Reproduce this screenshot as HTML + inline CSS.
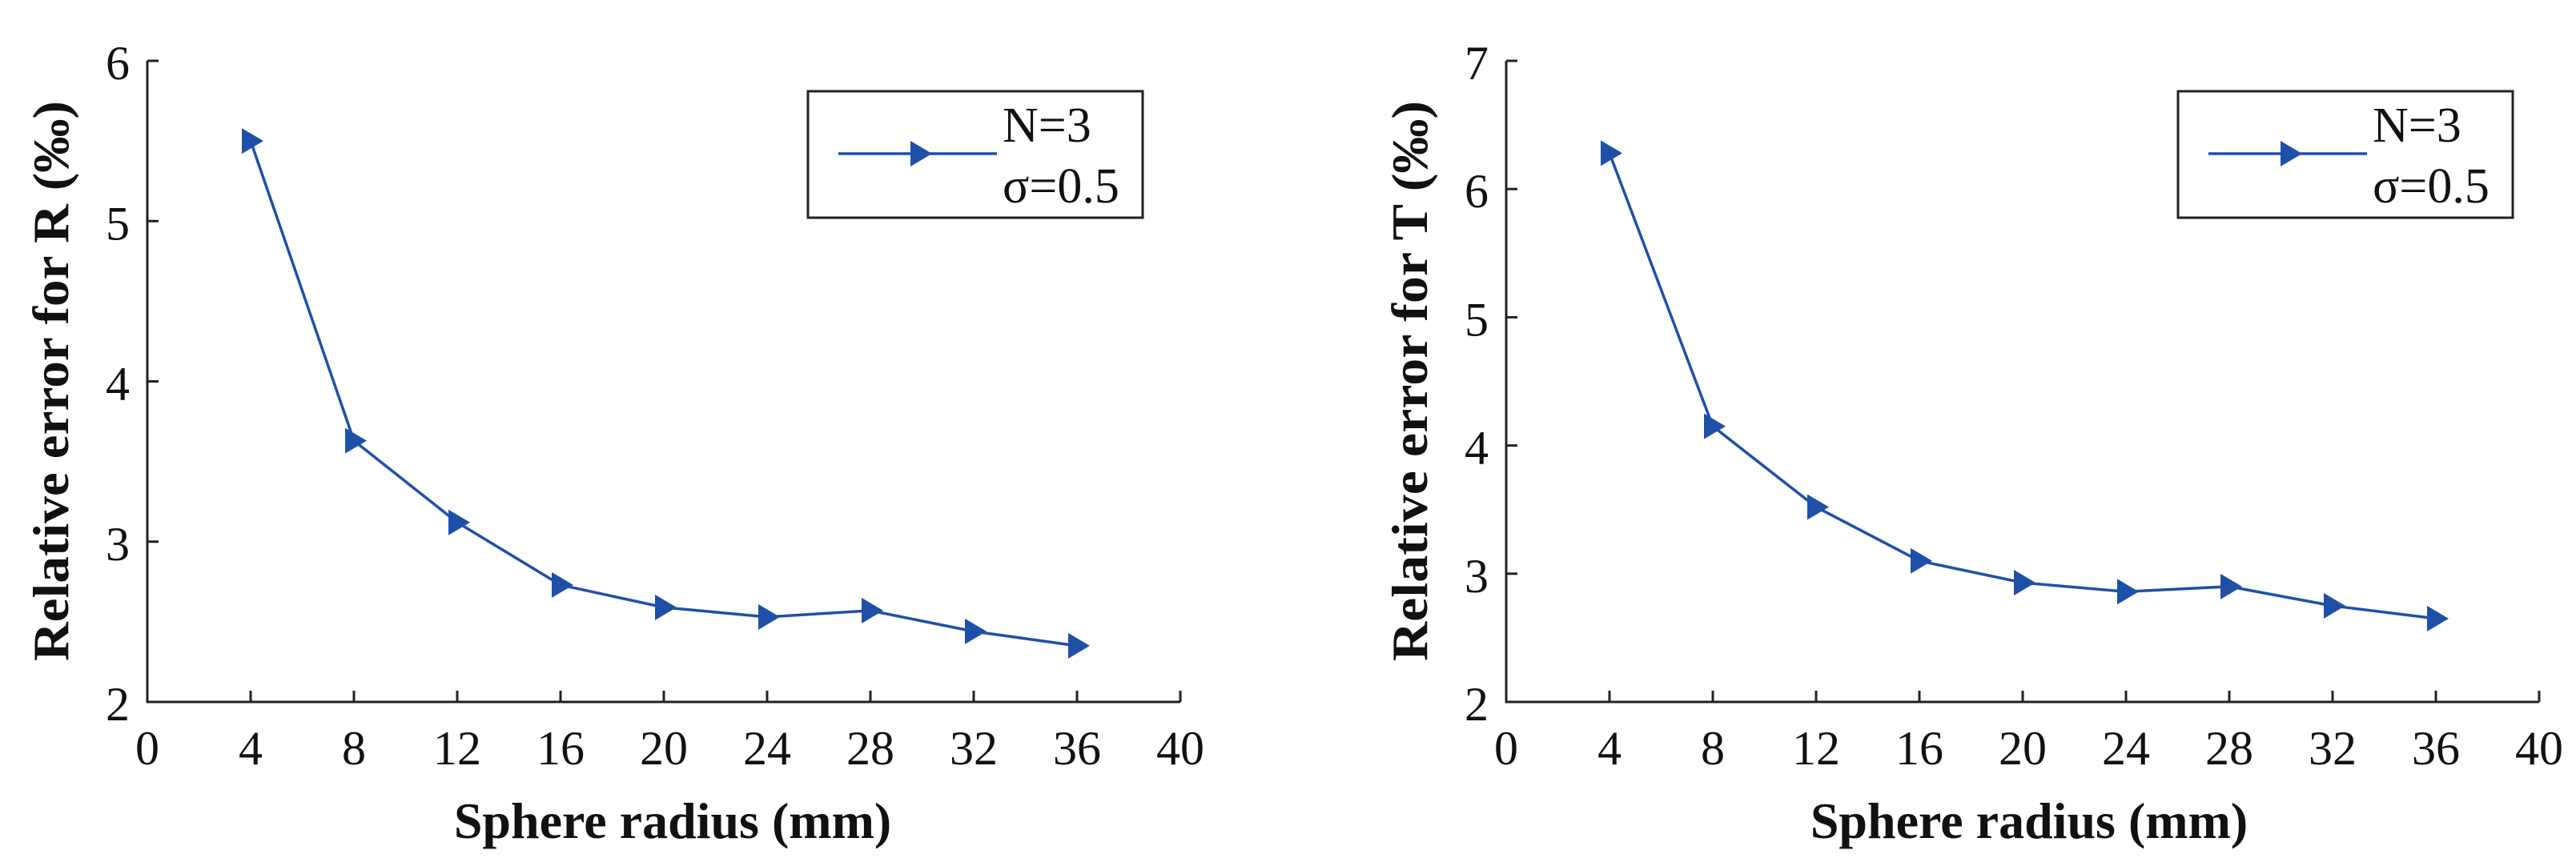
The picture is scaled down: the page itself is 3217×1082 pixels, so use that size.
<!DOCTYPE html>
<html><head><meta charset="utf-8"><style>
html,body{margin:0;padding:0;background:#fff;}
svg{display:block;}
text{font-family:"Liberation Serif",serif;fill:#111;}
</style></head><body>
<svg id="chart" width="3217" height="1082" viewBox="0 0 3217 1082" xmlns="http://www.w3.org/2000/svg"></svg>
<script>
const categories = [4, 8, 12, 16, 20, 24, 28, 32, 36];
const seriesR = [5.50, 3.63, 3.12, 2.73, 2.59, 2.53, 2.57, 2.44, 2.35];
const seriesT = [6.28, 4.15, 3.52, 3.10, 2.93, 2.86, 2.90, 2.75, 2.65];
const xTicks = [0, 4, 8, 12, 16, 20, 24, 28, 32, 36, 40];
const yTicksR = [2, 3, 4, 5, 6];
const yTicksT = [2, 3, 4, 5, 6, 7];

const NS = 'http://www.w3.org/2000/svg';
const svg = document.getElementById('chart');
function mk(tag, attrs, parent) {
  const e = document.createElementNS(NS, tag);
  for (const k in attrs) e.setAttribute(k, attrs[k]);
  (parent || svg).appendChild(e);
  return e;
}
const BLUE = '#1f50a8';

function drawPanel(cfg) {
  const g = mk('g', {});
  
  
  const x0 = cfg.left, x1 = cfg.right, yTop = 76, yBot = 877;
  const xs = v => x0 + (v - 0) / 40 * (x1 - x0);
  const ys = v => yBot - (v - cfg.ymin) / (cfg.ymax - cfg.ymin) * (yBot - yTop);

  const axes = mk('path', {d: `M${x0},${yTop} L${x0},${yBot} L${x1},${yBot}`, fill: 'none', stroke: '#222', 'stroke-width': 3}, g);
  
  

  xTicks.forEach(t => {
    const x = xs(t);
    if (t !== 0) mk('line', {x1: x, x2: x, y1: yBot, y2: yBot - 14, stroke: '#222', 'stroke-width': 3}, g);
    const lb = mk('text', {x: x, y: 955, 'font-size': 60, 'text-anchor': 'middle'}, g);
    lb.textContent = t;
    
    
  });
  cfg.yTicks.forEach(t => {
    const y = ys(t);
    if (t !== cfg.ymin) mk('line', {x1: x0, x2: x0 + 14, y1: y, y2: y, stroke: '#222', 'stroke-width': 3}, g);
    const lb = mk('text', {x: x0 - 22, y: y + 23, 'font-size': 60, 'text-anchor': 'end'}, g);
    lb.textContent = t;
    
    
  });

  const pts = categories.map((c, i) => [xs(c), ys(cfg.values[i])]);
  const line = mk('polyline', {points: pts.map(p => p.join(',')).join(' '), fill: 'none', stroke: BLUE, 'stroke-width': 3.5}, g);
  
  
  pts.forEach(p => {
    const m = mk('polygon', {points: `${p[0]-11},${p[1]-16} ${p[0]+16},${p[1]} ${p[0]-11},${p[1]+16}`, fill: BLUE}, g);
    
    
  });

  const xt = mk('text', {x: cfg.xlabelX, y: 1047, 'font-size': 64, 'font-weight': 'bold', 'text-anchor': 'middle'}, g);
  xt.textContent = 'Sphere radius (mm)';
  
  

  const yt = mk('text', {x: 0, y: 0, 'font-size': 64, 'font-weight': 'bold', 'text-anchor': 'middle', textLength: 700, lengthAdjust: 'spacingAndGlyphs', transform: `translate(${cfg.ylabelX},476) rotate(-90)`}, g);
  yt.textContent = cfg.ylabel;
  
  

  const lg = mk('g', {}, g);
  
  
  const L = cfg.legendX;
  mk('rect', {x: L, y: 114, width: 418, height: 158, fill: '#fff', stroke: '#222', 'stroke-width': 3}, lg);
  mk('line', {x1: L + 38, x2: L + 236, y1: 192, y2: 192, stroke: BLUE, 'stroke-width': 3.5}, lg);
  const lm = mk('polygon', {points: `${L+128},${176} ${L+155},${192} ${L+128},${208}`, fill: BLUE}, lg);
  
  
  const t1 = mk('text', {x: L + 243, y: 177, 'font-size': 62}, lg);
  t1.textContent = 'N=3';
  
  
  const t2 = mk('text', {x: L + 243, y: 253, 'font-size': 62}, lg);
  t2.textContent = 'σ=0.5';
  
  
}

drawPanel({name: 'chart-r', left: 184, right: 1474, ymin: 2, ymax: 6, yTicks: yTicksR, values: seriesR,
  xlabelX: 840, ylabelX: 85, ylabel: 'Relative error for R (‰)', legendX: 1009});
drawPanel({name: 'chart-t', left: 1881, right: 3171, ymin: 2, ymax: 7, yTicks: yTicksT, values: seriesT,
  xlabelX: 2534, ylabelX: 1782, ylabel: 'Relative error for T (‰)', legendX: 2720});
</script>
</body></html>
